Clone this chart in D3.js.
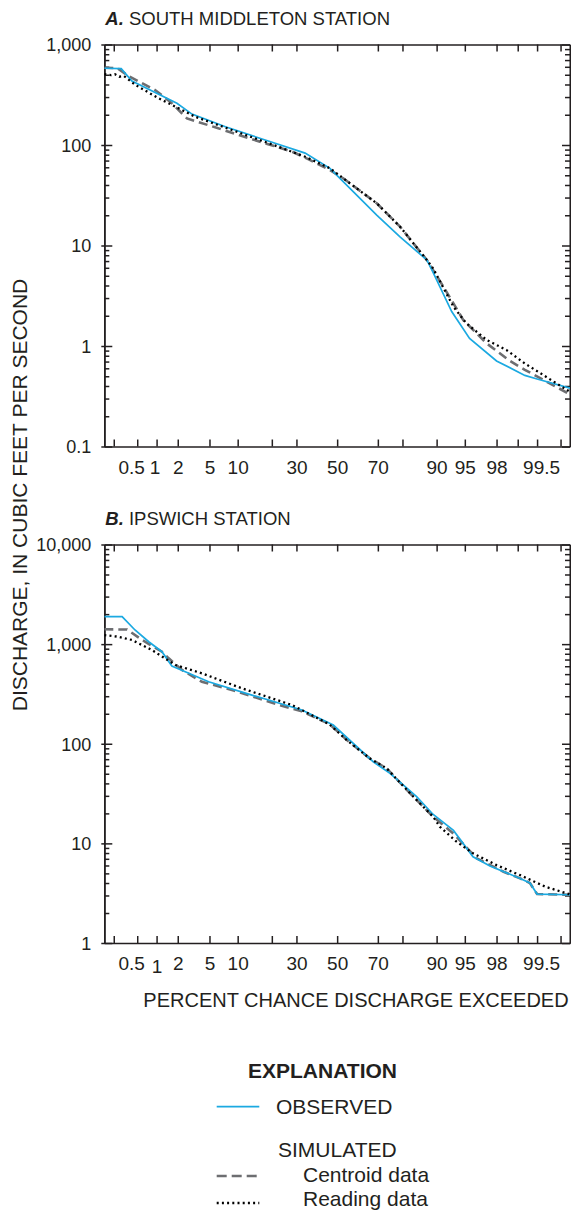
<!DOCTYPE html>
<html>
<head>
<meta charset="utf-8">
<script src="https://cdn.jsdelivr.net/npm/d3@7"></script>
<style>
  body { margin: 0; background: #fff; }
  svg { display: block; }
  text { font-family: "Liberation Sans", Arial, Helvetica, sans-serif; fill: #231f20; }
</style>
</head>
<body>
<svg id="chart" width="571" height="1210"></svg>
<script>
// Exceedance-probability axis
const probTicks  = [0.2, 0.5, 1, 2, 5, 10, 20, 30, 50, 70, 80, 90, 95, 98, 99, 99.5, 99.8];
const probLabels = [0.5, 1, 2, 5, 10, 30, 50, 70, 90, 95, 98, 99.5];

// A. South Middleton station (percent exceeded, cubic feet per second)
const smObservedPct = [0.135, 0.27, 0.41, 1.95, 3.07, 7.5, 17.7, 34, 46.3, 58.2, 69.5, 79.1, 87.6, 89, 93, 95.6, 98, 99.22, 99.5, 99.865];
const smObservedQ   = [580, 575, 433, 260, 203, 152, 112, 83, 58.6, 34.3, 20.1, 12.2, 7.18, 5.6, 2.2, 1.19, 0.71, 0.51, 0.47, 0.38];
const smCentroidPct = [0.135, 0.23, 0.36, 0.95, 1.57, 2.65, 5.8, 12.7, 28, 35.7, 46.3, 53.1, 69.5, 79.1, 87.6, 92, 94.8, 97.3, 98.7, 99.22, 99.865];
const smCentroidQ   = [587, 583, 486, 352, 270, 184, 150, 117, 86, 72, 56.4, 46.6, 26.3, 15.4, 7.18, 3.5, 1.81, 1.06, 0.71, 0.58, 0.33];
const smReadingPct  = [0.135, 0.18, 0.21, 0.25, 0.3, 0.47, 1.07, 2.05, 3.37, 8.76, 22.5, 34, 46.3, 56.5, 69.5, 79.1, 87.6, 89.2, 93.3, 95.2, 97.3, 98.55, 99.22, 99.865];
const smReadingQ    = [508, 495, 505, 478, 486, 395, 292, 232, 191, 141, 96, 76.5, 58.6, 41.6, 26.3, 15.4, 7.18, 5.9, 2.46, 1.68, 1.15, 0.91, 0.67, 0.35];

// B. Ipswich station
const ipObservedPct = [0.135, 0.28, 0.46, 0.76, 1.2, 1.66, 2.52, 4.89, 13.6, 32.5, 48, 67.9, 75.2, 84.7, 89.2, 93.3, 96, 97.55, 99.08, 99.35, 99.5, 99.865];
const ipObservedQ   = [1884, 1884, 1386, 1057, 839, 603, 528, 419, 308, 218, 154, 66, 50.5, 29.4, 19.5, 13.5, 7.33, 5.92, 4.45, 4.0, 3.1, 3.05];
const ipCentroidPct = [0.135, 0.34, 0.6, 1.2, 1.5, 2.28, 4.07, 8.76, 25.2, 31.6, 46, 55, 66.4, 73.8, 83.7, 85.7, 89.2, 93.3, 96.4, 98.4, 99.08, 99.35, 99.5, 99.865];
const ipCentroidQ   = [1409, 1400, 1100, 839, 720, 550, 419, 346, 235, 215, 158, 109, 71, 56.6, 29.4, 25.2, 18.5, 12.5, 7.07, 5.19, 4.45, 4.0, 3.1, 3.05];
const ipReadingPct  = [0.135, 0.24, 0.41, 0.85, 1.85, 4.07, 11, 28, 46, 54.9, 66.4, 73.8, 83.7, 89.2, 90.7, 93.8, 96, 98, 99.08, 99.64, 99.865];
const ipReadingQ    = [1234, 1187, 1100, 873, 618, 509, 360, 245, 157, 109, 71, 56.6, 29.4, 18.5, 14.7, 10.4, 7.94, 6.05, 4.8, 3.66, 3.08];

const smDecadeLabels = ["0.1", "1", "10", "100", "1,000"];
const ipDecadeLabels = ["1", "10", "100", "1,000", "10,000"];

// Inverse standard normal CDF (Acklam's rational approximation)
function normInv(p) {
  const a = [-3.969683028665376e+01, 2.209460984245205e+02, -2.759285104469687e+02, 1.383577518672690e+02, -3.066479806614716e+01, 2.506628277459239e+00];
  const b = [-5.447609879822406e+01, 1.615858368580409e+02, -1.556989798598866e+02, 6.680131188771972e+01, -1.328068155288572e+01];
  const c = [-7.784894002430293e-03, -3.223964580411365e-01, -2.400758277161838e+00, -2.549732539343734e+00, 4.374664141464968e+00, 2.938163982698783e+00];
  const d = [7.784695709041462e-03, 3.224671290700398e-01, 2.445134137142996e+00, 3.754408661907416e+00];
  const pl = 0.02425, ph = 1 - pl;
  let q, r;
  if (p < pl) {
    q = Math.sqrt(-2 * Math.log(p));
    return (((((c[0]*q+c[1])*q+c[2])*q+c[3])*q+c[4])*q+c[5]) / ((((d[0]*q+d[1])*q+d[2])*q+d[3])*q+1);
  }
  if (p <= ph) {
    q = p - 0.5; r = q * q;
    return (((((a[0]*r+a[1])*r+a[2])*r+a[3])*r+a[4])*r+a[5])*q / (((((b[0]*r+b[1])*r+b[2])*r+b[3])*r+b[4])*r+1);
  }
  q = Math.sqrt(-2 * Math.log(1 - p));
  return -(((((c[0]*q+c[1])*q+c[2])*q+c[3])*q+c[4])*q+c[5]) / ((((d[0]*q+d[1])*q+d[2])*q+d[3])*q+1);
}

// Normal-probability scale built on a linear scale of standard deviates
function probScale(lin) {
  const s = p => lin(normInv(p / 100));
  s.copy = () => probScale(lin.copy());
  s.range = () => lin.range();
  s.domain = () => [0.135, 99.865];
  return s;
}

const svg = d3.select("#chart");
const left = 104.3, right = 570;
const x = probScale(d3.scaleLinear().domain([-3, 3]).range([left, right]));

const zip = (p, q) => p.map((v, i) => [v, q[i]]);

function drawPanel(opts) {
  const { top, bottom, yDomain, decadeLabels, title, series, labelNudge } = opts;
  const y = d3.scaleLog().domain(yDomain).range([bottom, top]);
  const g = svg.append("g");

  const decades = d3.range(Math.log10(yDomain[0]), Math.log10(yDomain[1]) + 1).map(e => Math.pow(10, e));
  const minors = [];
  decades.slice(0, -1).forEach(dv => { for (let k = 2; k <= 9; k++) minors.push(dv * k); });

  const styleAxis = sel => {
    sel.select(".domain").attr("stroke", "#231f20").attr("stroke-width", 1.6);
    sel.selectAll(".tick line").attr("stroke", "#231f20").attr("stroke-width", 1.5);
  };

  // minor ticks, left and right
  g.append("g").attr("transform", `translate(${left},0)`)
    .call(d3.axisLeft(y).tickValues(minors).tickSizeInner(-5).tickSizeOuter(0).tickFormat(""))
    .call(styleAxis);
  g.append("g").attr("transform", `translate(${right},0)`)
    .call(d3.axisRight(y).tickValues(minors).tickSizeInner(-5).tickSizeOuter(0).tickFormat(""))
    .call(styleAxis);

  // major ticks with labels
  const yl = g.append("g").attr("transform", `translate(${left},0)`)
    .call(d3.axisLeft(y).tickValues(decades).tickSizeInner(-8).tickSizeOuter(0).tickPadding(13)
      .tickFormat((d, i) => decadeLabels[i]))
    .call(styleAxis);
  yl.selectAll(".tick line").attr("x1", -3);
  yl.selectAll(".tick text").attr("font-size", 18).attr("dy", "0.36em");
  g.append("g").attr("transform", `translate(${right},0)`)
    .call(d3.axisRight(y).tickValues(decades).tickSizeInner(-8).tickSizeOuter(0).tickFormat(""))
    .call(styleAxis);

  // probability ticks, top and bottom
  g.append("g").attr("transform", `translate(0,${top})`)
    .call(d3.axisTop(x).tickValues(probTicks).tickSizeInner(-7).tickSizeOuter(0).tickFormat(""))
    .call(styleAxis);
  const xb = g.append("g").attr("transform", `translate(0,${bottom})`)
    .call(d3.axisBottom(x).tickValues(probTicks).tickSizeInner(-7).tickSizeOuter(0)
      .tickPadding(14).tickFormat(d => probLabels.includes(d) ? String(d) : ""))
    .call(styleAxis);
  xb.selectAll(".tick text").attr("font-size", 19)
    .attr("transform", d => labelNudge[d] ? `translate(${labelNudge[d][0]},${labelNudge[d][1]})` : null);

  // panel title
  const t = svg.append("text").attr("x", left + 1).attr("y", top - 20).attr("font-size", 18.5);
  t.append("tspan").attr("font-weight", "bold").attr("font-style", "italic").text(title[0]);
  t.append("tspan").text(" " + title[1]);

  // curves
  const line = d3.line().x(d => x(d[0])).y(d => y(d[1]));
  const clip = "clip" + Math.round(top);
  svg.append("clipPath").attr("id", clip).append("rect")
    .attr("x", left).attr("y", top).attr("width", right - left).attr("height", bottom - top);
  const cg = svg.append("g").attr("clip-path", `url(#${clip})`);
  cg.append("path").datum(series.centroid).attr("d", line).attr("fill", "none")
    .attr("stroke", "#6d6e71").attr("stroke-width", 2.6).attr("stroke-dasharray", "9,5");
  cg.append("path").datum(series.observed).attr("d", line).attr("fill", "none")
    .attr("stroke", "#1ba9e1").attr("stroke-width", 1.7);
  cg.append("path").datum(series.reading).attr("d", line).attr("fill", "none")
    .attr("stroke", "#000").attr("stroke-width", 2.3).attr("stroke-dasharray", "2,3.2");
}

drawPanel({
  top: 44.5, bottom: 446.5, yDomain: [0.1, 1000], decadeLabels: smDecadeLabels,
  title: ["A.", "SOUTH MIDDLETON STATION"],
  labelNudge: { 0.5: [-6, 0], 1: [-2, 0], 99.5: [4, 0] },
  series: {
    observed: zip(smObservedPct, smObservedQ),
    centroid: zip(smCentroidPct, smCentroidQ),
    reading: zip(smReadingPct, smReadingQ)
  }
});

drawPanel({
  top: 544.5, bottom: 943, yDomain: [1, 10000], decadeLabels: ipDecadeLabels,
  title: ["B.", "IPSWICH STATION"],
  labelNudge: { 0.5: [-6, 0], 1: [0, 3], 99.5: [4, 0] },
  series: {
    observed: zip(ipObservedPct, ipObservedQ),
    centroid: zip(ipCentroidPct, ipCentroidQ),
    reading: zip(ipReadingPct, ipReadingQ)
  }
});

// axis titles
svg.append("text").attr("x", 356).attr("y", 1007).attr("text-anchor", "middle")
  .attr("font-size", 20).text("PERCENT CHANCE DISCHARGE EXCEEDED");
svg.append("text").attr("transform", "translate(27,495) rotate(-90)").attr("text-anchor", "middle")
  .attr("font-size", 21).text("DISCHARGE, IN CUBIC FEET PER SECOND");

// explanation
const lg = svg.append("g");
lg.append("text").attr("x", 322.5).attr("y", 1078).attr("text-anchor", "middle")
  .attr("font-size", 21).attr("font-weight", "bold").text("EXPLANATION");
lg.append("line").attr("x1", 216.7).attr("x2", 259.3).attr("y1", 1106.7).attr("y2", 1106.7)
  .attr("stroke", "#1ba9e1").attr("stroke-width", 1.7);
lg.append("text").attr("x", 276).attr("y", 1114).attr("font-size", 21).text("OBSERVED");
lg.append("text").attr("x", 278).attr("y", 1157).attr("font-size", 21).text("SIMULATED");
lg.append("line").attr("x1", 216.7).attr("x2", 259.3).attr("y1", 1176).attr("y2", 1176)
  .attr("stroke", "#6d6e71").attr("stroke-width", 2.6).attr("stroke-dasharray", "10,5");
lg.append("text").attr("x", 303).attr("y", 1182).attr("font-size", 21).text("Centroid data");
lg.append("line").attr("x1", 216.7).attr("x2", 259.3).attr("y1", 1203).attr("y2", 1203)
  .attr("stroke", "#000").attr("stroke-width", 2.3).attr("stroke-dasharray", "2,3.2");
lg.append("text").attr("x", 303).attr("y", 1206).attr("font-size", 21).text("Reading data");
</script>
</body>
</html>
